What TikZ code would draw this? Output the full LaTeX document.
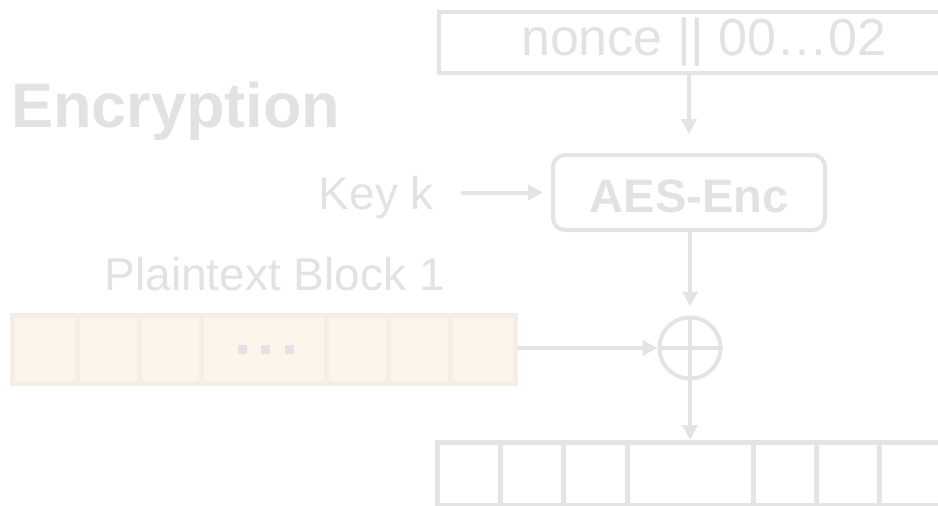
\documentclass[tikz,border=0pt]{standalone}
\usepackage{fontspec}
\setmainfont{Liberation Sans}
\usetikzlibrary{arrows.meta}
\definecolor{linegray}{HTML}{E4E4E4}
\definecolor{textgray}{HTML}{E2E2E2}
\definecolor{ptfill}{HTML}{FDF4EB}
\definecolor{ptline}{HTML}{F6EEE6}
\tikzset{
  conn/.style={draw=linegray, line width=4pt, -{Triangle[length=15pt,width=15pt]}},
  wire/.style={draw=linegray, line width=4pt},
  lbl/.style={inner sep=0pt, text=textgray},
  dotsq/.style={fill=textgray, minimum size=9pt, inner sep=0pt},
}
\begin{document}
\begin{tikzpicture}[x=1pt, y=-1pt]
  \useasboundingbox (0,0) rectangle (938,506);
  \clip (0,0) rectangle (938,506);

  % title
  \node[lbl, anchor=base west, font=\fontsize{63}{70}\bfseries\selectfont, text=textgray] (title) at (11,127) {Encryption};

  % counter block input
  \node[draw=linegray, line width=3.5pt, anchor=north west, minimum width=530pt, minimum height=61pt,
        inner sep=0pt, text=textgray, font=\fontsize{52}{60}\selectfont] (nonce) at (437,10) {nonce || 00…02};

  % block cipher
  \node[draw=linegray, line width=4pt, rounded corners=12pt, minimum width=272pt, minimum height=75pt,
        inner sep=0pt, text height=40pt, text depth=0pt, text=textgray,
        font=\fontsize{47}{55}\bfseries\selectfont] (aes) at (689,192.5) {AES-Enc};

  % key input
  \node[lbl, anchor=base east, font=\fontsize{46}{54}\selectfont] (key) at (434,209) {Key k};

  % plaintext label
  \node[lbl, anchor=base east, font=\fontsize{46}{54}\selectfont] (ptlbl) at (445,290) {Plaintext Block 1};

  % plaintext block
  \node[fill=ptfill, draw=ptline, line width=5pt, minimum width=503pt, minimum height=68pt,
        inner sep=0pt] (pt) at (263.5,349) {};
  \foreach \xx in {77,139,201,326,388,450}
    \draw[ptline, line width=5pt] (\xx,317.5) -- (\xx,380.5);
  \node[dotsq] (d1) at (242.5,349.5) {};
  \node[dotsq] (d2) at (265.5,349.5) {};
  \node[dotsq] (d3) at (289.5,349.5) {};

  % xor
  \node[circle, draw=linegray, line width=4pt, minimum size=61pt, inner sep=0pt] (xor) at (690,348) {};
  \draw[wire] (xor.north) -- (xor.south);
  \draw[wire] (xor.west) -- (xor.east);

  % ciphertext block
  \node[draw=linegray, line width=5pt, anchor=north west, minimum width=540pt, minimum height=63pt,
        inner sep=0pt] (ct) at (435,440) {};
  \foreach \xx in {500,563,627,753,816,879}
    \draw[wire, line width=5pt] (\xx,440) -- (\xx,503);

  % connectors
  \draw[conn, shorten >=19pt] (nonce.south -| aes.north) -- (aes.north);
  \draw[conn, shorten <=27pt, shorten >=8pt] (key.east |- aes.west) -- (aes.west);
  \draw[conn, shorten >=9pt] (aes.south -| xor.north) -- (xor.north);
  \draw[conn] (pt.east |- xor.west) -- (xor.west);
  \draw[conn] (xor.south) -- (xor.south |- ct.north);
\end{tikzpicture}
\end{document}
